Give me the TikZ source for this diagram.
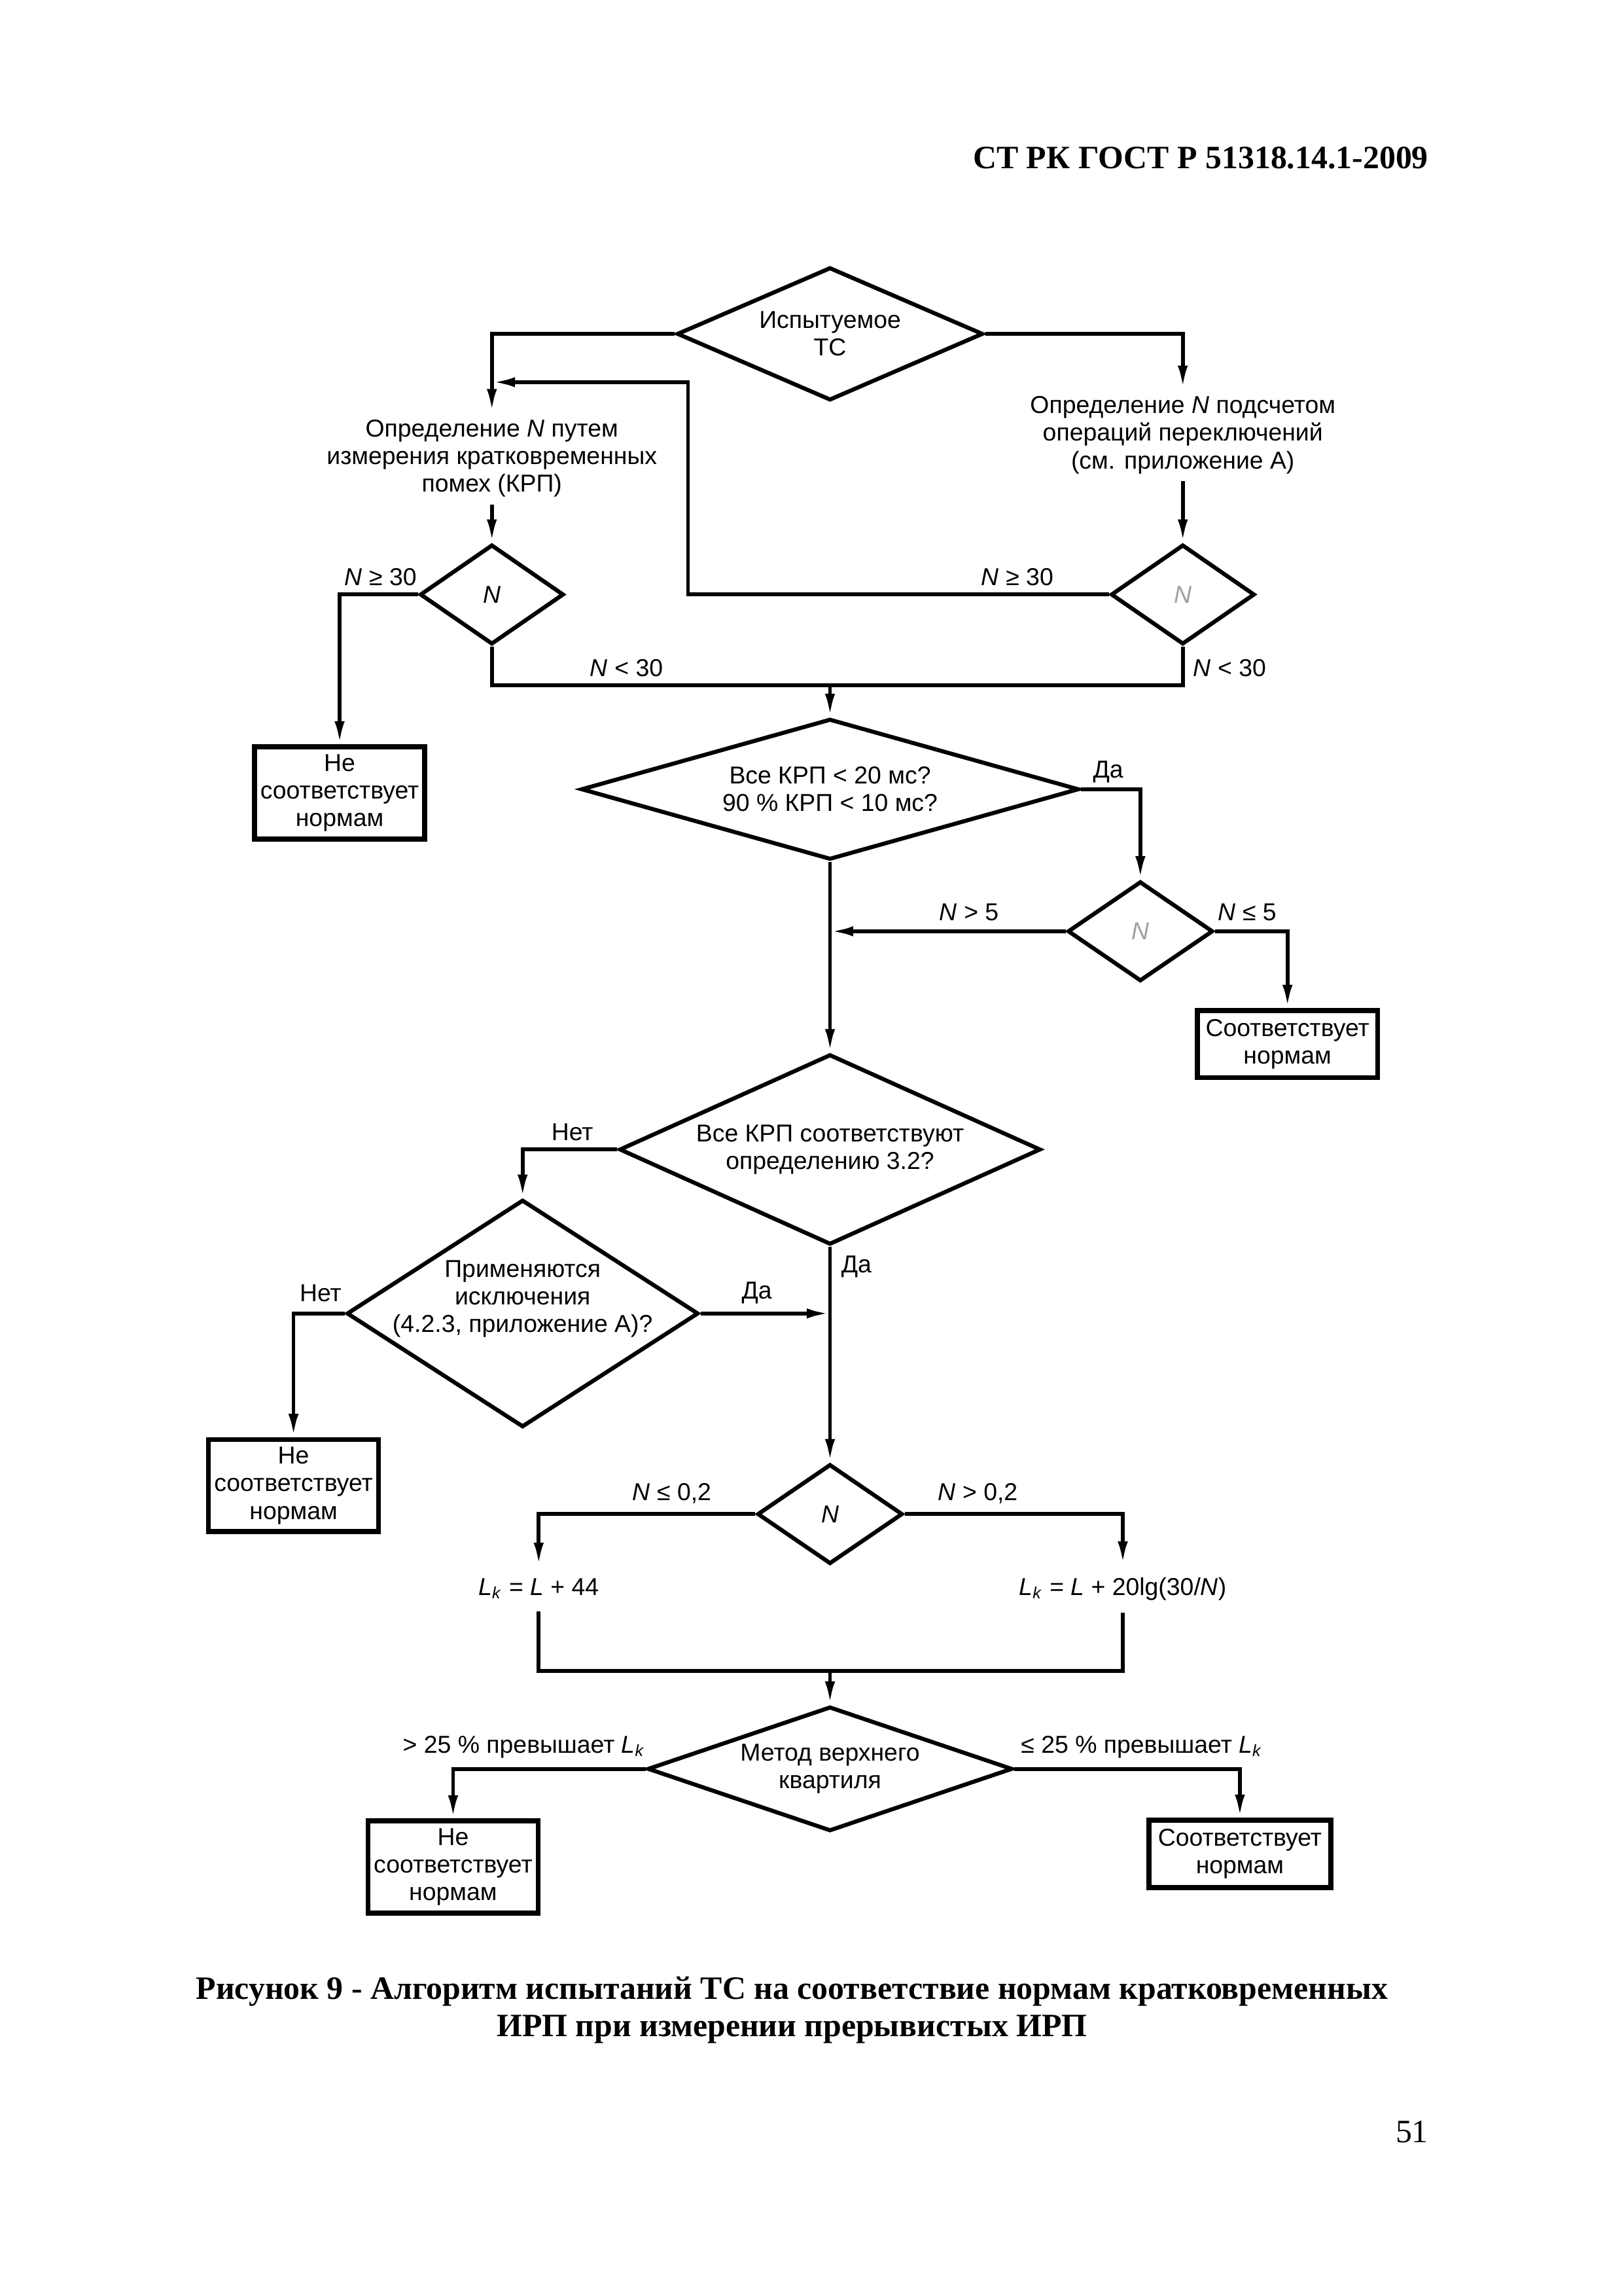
\documentclass[tikz,border=0pt]{standalone}
\usepackage{fontspec}
\setmainfont{Liberation Sans}
\newfontfamily\serifrm{Liberation Serif}
\usetikzlibrary{shapes.geometric,arrows.meta}
\definecolor{ngray}{HTML}{A0A0A0}

\begin{document}
\begin{tikzpicture}[x=0.018941cm,y=-0.018941cm,
    line width=1.4pt,
    font=\fontsize{9}{10.2}\selectfont,
    arr/.style={-{Latex[length=3mm,width=1.3mm]}},
    dec/.style={draw,diamond,align=center,inner sep=0pt,line width=1.5pt},
    res/.style={draw,rectangle,align=center,inner sep=1pt,line width=1.8pt,
      minimum width=2.2cm,minimum height=1.19cm},
    txt/.style={align=center,inner sep=2pt},
    lbl/.style={inner sep=1pt},
    doc/.style={inner sep=0pt,font=\serifrm\bfseries\fontsize{12}{14}\selectfont}]
      \useasboundingbox (0,0) rectangle (1109,1568);

      \path
      (977,108) node[doc,anchor=east](head) {СТ РК ГОСТ Р 51318.14.1-2009}
      (541,1360) node[doc](cap1) {Рисунок 9 - Алгоритм испытаний ТС на соответствие нормам кратковременных}
      (541,1386) node[doc](cap2) {ИРП при измерении прерывистых ИРП}
      (977,1456) node[inner sep=0pt,font=\serifrm\fontsize{12}{14}\selectfont,anchor=east](page) {51}
      ;

      \path
      (567,228) node[dec,aspect=2.3,minimum width=3.96cm,minimum height=1.72cm](dTS) {Испытуемое\\ТС}
      (336,313) node[txt](tMeasure) {Определение \textit{N} путем\\измерения кратковременных\\помех (КРП)}
      (808,297) node[txt](tCount) {Определение \textit{N} подсчетом\\операций переключений\\(см. приложение А)}
      (336,406) node[dec,aspect=1.45,minimum width=1.86cm,minimum height=1.29cm](dNl) {\textit{N}}
      (808,406) node[dec,aspect=1.45,minimum width=1.86cm,minimum height=1.29cm](dNr) {\textcolor{ngray}{\textit{N}}}
      (232,541.5) node[res](bNl1) {Не\\соответствует\\нормам}
      (567,539) node[dec,aspect=3.54,minimum width=6.44cm,minimum height=1.82cm](dKRP) {Все КРП < 20 мс?\\90 \% КРП < 10 мс?}
      (779,636) node[dec,aspect=1.45,minimum width=1.88cm,minimum height=1.29cm](dN5) {\textcolor{ngray}{\textit{N}}}
      (879.5,713) node[res,minimum width=2.33cm,minimum height=0.87cm](bOk1) {Соответствует\\нормам}
      (567,785) node[dec,aspect=2.2,minimum width=5.45cm,minimum height=2.46cm](dDef) {Все КРП соответствуют\\определению 3.2?}
      (357,897) node[dec,aspect=1.55,minimum width=4.55cm,minimum height=2.94cm](dExc) {}
      (357,887) node[txt](tExc) {Применяются\\исключения\\(4.2.3, приложение А)?}
      (200.5,1014.5) node[res](bNl2) {Не\\соответствует\\нормам}
      (567,1034) node[dec,aspect=1.45,minimum width=1.88cm,minimum height=1.29cm](dN02) {\textit{N}}
      (368,1085) node[txt,inner sep=4pt](tL44) {\textit{L}\textsubscript{\textit{k}} = \textit{L} + 44}
      (767,1085) node[txt,inner sep=4pt](tL20) {\textit{L}\textsubscript{\textit{k}} = \textit{L} + 20lg(30/\textit{N})}
      (567,1208) node[dec,aspect=2.93,minimum width=4.72cm,minimum height=1.61cm](dQ) {Метод верхнего\\квартиля}
      (309.5,1275) node[res](bNl3) {Не\\соответствует\\нормам}
      (847,1266) node[res,minimum width=2.35cm,minimum height=0.87cm](bOk2) {Соответствует\\нормам}
      ;

      \path
      (260,394) node[lbl](lGe30l) {\textit{N} ≥ 30}
      (695,394) node[lbl](lGe30r) {\textit{N} ≥ 30}
      (428,456) node[lbl](lLt30l) {\textit{N} < 30}
      (840,456) node[lbl](lLt30r) {\textit{N} < 30}
      (757,527) node[lbl](lYes1) {Да}
      (662,623) node[lbl](lGt5) {\textit{N} > 5}
      (852,623) node[lbl](lLe5) {\textit{N} ≤ 5}
      (391,773) node[lbl](lNo1) {Нет}
      (517,883) node[lbl](lYes2) {Да}
      (219,883) node[lbl](lNo2) {Нет}
      (585,865) node[lbl](lYes3) {Да}
      (459,1020) node[lbl](lLe02) {\textit{N} ≤ 0,2}
      (668,1020) node[lbl](lGt02) {\textit{N} > 0,2}
      (358,1193) node[lbl](lGt25) {> 25 \% превышает \textit{L}\textsubscript{\textit{k}}}
      (780,1193) node[lbl](lLe25) {≤ 25 \% превышает \textit{L}\textsubscript{\textit{k}}}
      ;

      \coordinate (fbTurn) at (470,261);
      \coordinate (fbEnd) at (336,261);
      \coordinate (jN30) at (567,468);
      \coordinate (jLk) at (567,1141);

      \draw[arr] (dTS.west) -| (tMeasure.north);
      \draw[arr] (dTS.east) -| (tCount.north);
      \draw[arr] (tMeasure.south) -- (dNl.north);
      \draw[arr] (tCount.south) -- (dNr.north);
      \draw[arr] (dNr.west) -| (fbTurn) -- (fbEnd);
      \draw[arr] (dNl.west) -| (bNl1.north);
      \draw (dNl.south) |- (jN30) -| (dNr.south);
      \draw[arr] (jN30) -- (dKRP.north);

      \draw[arr] (dKRP.east) -| (dN5.north);
      \draw[arr] (dN5.west) -- (dN5.west -| dKRP.south);
      \draw[arr] (dN5.east) -| (bOk1.north);
      \draw[arr] (dKRP.south) -- (dDef.north);

      \draw[arr] (dDef.west) -| (dExc.north);
      \draw[arr] (dExc.east) -- (dExc.east -| dDef.south);
      \draw[arr] (dExc.west) -| (bNl2.north);
      \draw[arr] (dDef.south) -- (dN02.north);

      \draw[arr] (dN02.west) -| (tL44.north);
      \draw[arr] (dN02.east) -| (tL20.north);
      \draw (tL44.south) |- (jLk) -| (tL20.south);
      \draw[arr] (jLk) -- (dQ.north);
      \draw[arr] (dQ.west) -| (bNl3.north);
      \draw[arr] (dQ.east) -| (bOk2.north);
    \end{tikzpicture}
\end{document}
